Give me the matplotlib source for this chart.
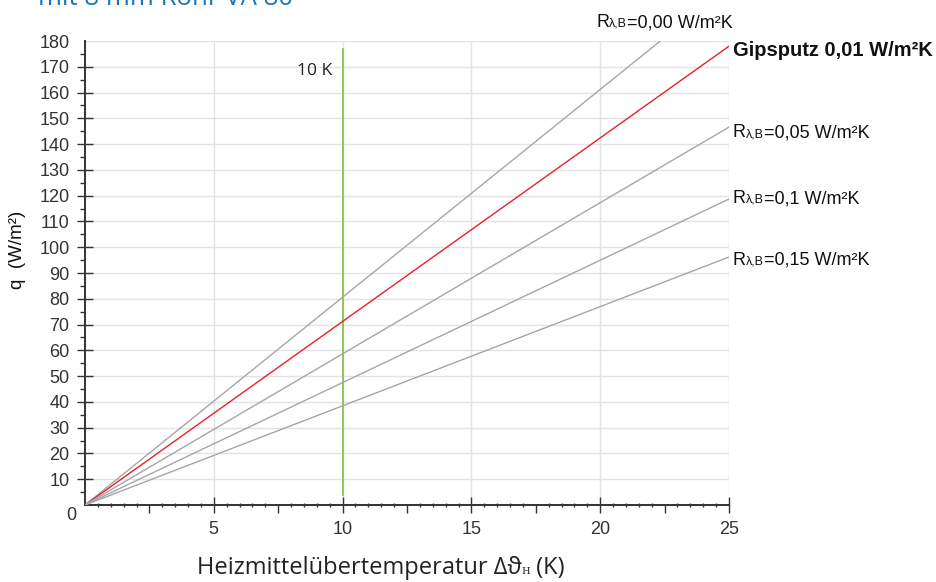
import numpy as np
import matplotlib
matplotlib.use("Agg")
import matplotlib.pyplot as plt

# ---- data ----
x_end = 25
series_names = ["0,00", "Gipsputz", "0,05", "0,1", "0,15"]
q_at_25 = [201.5, 178.0, 146.6, 118.7, 96.2]   # W/m² at Δϑ = 25 K
series_colors = ["#a6a6a6", "#e8202a", "#a6a6a6", "#a6a6a6", "#a6a6a6"]
marker_x = 10
marker_y = [4, 177]
x_major = [5, 10, 15, 20, 25]
x_major_labels = ["5", "10", "15", "20", "25"]
y_major = list(range(10, 190, 10))
y_major_labels = [str(v) for v in y_major]

W, H = 936, 582
fig = plt.figure(figsize=(W / 100, H / 100), dpi=100)
L, R_, B, T = 85, 729, 505, 41
ax = fig.add_axes([L / W, (H - B) / H, (R_ - L) / W, (B - T) / H])
ax.set_xlim(0, 25)
ax.set_ylim(0, 180)

# grid
for v in y_major:
    ax.axhline(v, color="#e3e3e3", lw=1.0, zorder=0)
for v in x_major:
    ax.axvline(v, color="#e3e3e3", lw=1.0, zorder=0)

# lines
for q, c in zip(q_at_25, series_colors):
    ax.plot([0, x_end], [0, q], color=c, lw=1.0, zorder=3)
ax.plot([marker_x, marker_x], marker_y, color="#7dc242", lw=1.2, zorder=2)

# spines
for s in ["top", "right"]:
    ax.spines[s].set_visible(False)
for s in ["left", "bottom"]:
    ax.spines[s].set_color("#333333")
    ax.spines[s].set_linewidth(1.4)

tick_font = dict(family=["Liberation Sans", "DejaVu Sans"], size=13)
tick_col = "#333333"

ax.set_yticks(y_major)
ax.set_yticklabels(y_major_labels, color=tick_col, **tick_font)
ax.set_yticks(np.arange(5, 180, 10), minor=True)
ax.tick_params(axis="y", which="major", direction="inout", length=12.2, width=1.0,
               color="#333333", pad=5)
ax.tick_params(axis="y", which="minor", direction="out", length=3.6, width=1.0,
               color="#333333")
ax.yaxis.get_major_ticks()[-1].tick1line.set_visible(False)

ax.set_xticks(x_major)
ax.set_xticklabels(x_major_labels, color=tick_col, **tick_font)
minor_x = [v for v in np.arange(0.5, 25, 0.5) if abs(v / 2.5 - round(v / 2.5)) > 1e-6]
ax.set_xticks(minor_x, minor=True)
ax.tick_params(axis="x", which="major", direction="inout", length=11.5, width=1.0,
               color="#333333", pad=6)
ax.tick_params(axis="x", which="minor", direction="inout", length=2.9, width=1.0,
               color="#333333")

sec = ax.secondary_xaxis("bottom")
sec.set_xticks([2.5, 7.5, 12.5, 17.5, 22.5])
sec.set_xticklabels([])
sec.tick_params(direction="out", length=5.8, width=1.0, color="#333333")
sec.spines["bottom"].set_visible(False)

def px(x, y):
    return x / W, 1 - y / H

# "0" label at origin
fig.text(*px(71, 520), "0", ha="center", va="baseline", color=tick_col, **tick_font)

fig.text(*px(17, 250), "q  (W/m²)", rotation=90, ha="center", va="center",
         family=["Liberation Sans"], size=13.5, color="#111111")

# title (cut off at the top, as in the reference)
fig.text(*px(38, 5), "mit 8 mm Rohr VA 80", ha="left", va="baseline",
         family=["Open Sans"], size=18.5, color="#1b75bc")

# "10 K"
fig.text(*px(297, 75), "10 K", ha="left", va="baseline",
         family=["Open Sans"], size=12.5, color="#222222")

fig.canvas.draw()
renderer = fig.canvas.get_renderer()

def pieces(parts, x, y, center=False):
    texts = []
    for txt, kw in parts:
        t = fig.text(*px(x, y), txt, ha="left", va="baseline", **kw)
        texts.append(t)
    widths = [t.get_window_extent(renderer).width for t in texts]
    xs = x - sum(widths) / 2 if center else x
    for t, w in zip(texts, widths):
        t.set_position(px(xs, y))
        xs += w

xl_kw = dict(family=["Open Sans", "DejaVu Sans"], size=17, color="#222222")
xs_kw = dict(family=["DejaVu Serif"], size=7, color="#222222")
pieces([("Heizmittelübertemperatur Δϑ", xl_kw), ("H", xs_kw), (" (K)", xl_kw)],
       381, 574, center=True)

def rlabel(val, x, y):
    big = dict(family=["Liberation Sans", "DejaVu Sans"], size=13, color="#111111")
    small = dict(family=["Liberation Sans", "DejaVu Sans"], size=9, color="#111111")
    pieces([("R", big), ("λ,B", small), ("=" + val + " W/m²K", big)], x, y)

rlabel("0,00", 596, 27)
rlabel("0,05", 733, 137)
rlabel("0,1", 733, 203)
rlabel("0,15", 733, 265)
fig.text(*px(733, 56), "Gipsputz 0,01 W/m²K", ha="left", va="baseline",
         family=["Liberation Sans"], weight="bold", size=14.5, color="#111111")

fig.savefig("out.png", dpi=100)
